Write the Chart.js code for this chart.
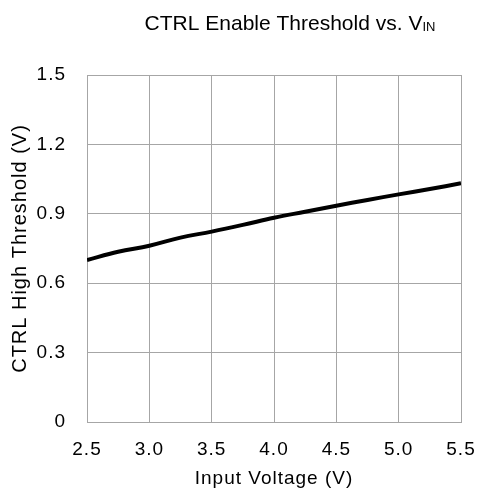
<!DOCTYPE html>
<html>
<head>
<meta charset="utf-8">
<script src="https://cdn.jsdelivr.net/npm/chart.js@4"></script>
<style>
  html, body { margin: 0; padding: 0; background: #fff; }
  #wrap { width: 479px; height: 493px; }
</style>
</head>
<body>
<div id="wrap"><canvas id="c" width="479" height="493"></canvas></div>
<script>
const inputVoltage = [2.5, 2.75, 3.0, 3.25, 3.5, 3.75, 4.0, 4.25, 4.5, 4.75, 5.0, 5.25, 5.5];
const ctrlHighThreshold = [0.700, 0.736, 0.762, 0.797, 0.823, 0.852, 0.883, 0.909, 0.935, 0.960, 0.984, 1.007, 1.032];
const xTicks = [2.5, 3.0, 3.5, 4.0, 4.5, 5.0, 5.5];
const yTicks = [0, 0.3, 0.6, 0.9, 1.2, 1.5];
const titleMain = 'CTRL Enable Threshold vs. V';
const titleSub = 'IN';
const xTitle = 'Input Voltage (V)';
const yTitle = 'CTRL High Threshold (V)';

const FONT = "'Liberation Sans', Arial, sans-serif";
const SPACING = '1px';

const spacingPlugin = {
  id: 'spacing',
  beforeLayout(chart) { chart.ctx.letterSpacing = SPACING; },
  beforeDraw(chart) { chart.ctx.letterSpacing = SPACING; }
};

const titlePlugin = {
  id: 'subTitle',
  afterDraw(chart) {
    const ctx = chart.ctx;
    ctx.save();
    ctx.letterSpacing = '0px';
    ctx.fillStyle = '#000';
    ctx.textBaseline = 'alphabetic';
    ctx.font = '21px ' + FONT;
    const w1 = ctx.measureText(titleMain).width;
    ctx.font = '13px ' + FONT;
    const w2 = ctx.measureText(titleSub).width;
    const cx = 290;
    let x = cx - (w1 + w2) / 2;
    const y = 30;
    ctx.textAlign = 'left';
    ctx.font = '21px ' + FONT;
    ctx.fillText(titleMain, x, y);
    ctx.font = '13px ' + FONT;
    ctx.fillText(titleSub, x + w1, y + 1);
    ctx.restore();
  }
};

new Chart(document.getElementById('c'), {
  type: 'line',
  data: {
    datasets: [{
      data: inputVoltage.map((v, i) => ({ x: v, y: ctrlHighThreshold[i] })),
      borderColor: '#000',
      borderWidth: 4,
      pointRadius: 0,
      tension: 0.4,
      fill: false
    }]
  },
  options: {
    responsive: false,
    animation: false,
    devicePixelRatio: 1,
    layout: { padding: { top: 75, right: 18, bottom: 0, left: 0 } },
    plugins: { legend: { display: false }, tooltip: { enabled: false }, title: { display: false } },
    scales: {
      x: {
        type: 'linear',
        min: xTicks[0],
        max: xTicks[xTicks.length - 1],
        afterBuildTicks(s) { s.ticks = xTicks.map(v => ({ value: v })); },
        afterFit(s) { s.height = 71; s.paddingLeft = 0; s.paddingRight = 0; },
        ticks: {
          color: '#000',
          font: { family: FONT, size: 19 },
          padding: 16,
          maxRotation: 0,
          autoSkip: false,
          callback: v => v.toFixed(1)
        },
        grid: { color: '#a6a6a6', lineWidth: 1, drawTicks: false },
        border: { color: '#a6a6a6', width: 1 },
        title: {
          display: true,
          text: xTitle,
          color: '#000',
          font: { family: FONT, size: 19 },
          padding: { top: 0, bottom: 3 }
        }
      },
      y: {
        type: 'linear',
        min: yTicks[0],
        max: yTicks[yTicks.length - 1],
        afterBuildTicks(s) { s.ticks = yTicks.map(v => ({ value: v })); },
        afterFit(s) { s.width = 87; s.paddingTop = 0; s.paddingBottom = 0; },
        ticks: {
          color: '#000',
          font: { family: FONT, size: 19 },
          padding: 21,
          autoSkip: false,
          callback: v => (v === 0 ? '0' : v.toFixed(1))
        },
        grid: { color: '#a6a6a6', lineWidth: 1, drawTicks: false },
        border: { color: '#a6a6a6', width: 1 },
        title: {
          display: true,
          text: yTitle,
          color: '#000',
          font: { family: FONT, size: 20 },
          padding: { top: 8, bottom: 0 }
        }
      }
    }
  },
  plugins: [spacingPlugin, titlePlugin]
});
</script>
</body>
</html>
